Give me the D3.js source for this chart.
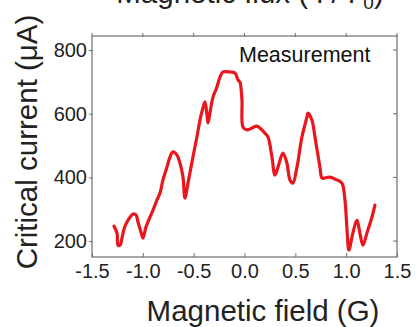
<!DOCTYPE html>
<html>
<head>
<meta charset="utf-8">
<script src="https://cdn.jsdelivr.net/npm/d3@7"></script>
<style>
  html, body { margin: 0; padding: 0; background: #fff; }
  svg { display: block; font-family: "Liberation Sans", Arial, Helvetica, sans-serif; }
</style>
</head>
<body>
<svg id="chart" width="416" height="327"></svg>
<script>
// Measured critical current versus applied magnetic field
const fieldG = [
  -1.284, -1.254, -1.244, -1.225, -1.205, -1.185, -1.156, -1.126, -1.097, -1.067,
  -1.048, -1.018, -0.999, -0.969, -0.930, -0.900, -0.861, -0.831, -0.802, -0.763,
  -0.733, -0.704, -0.664, -0.635, -0.605, -0.586, -0.556, -0.507, -0.468, -0.438,
  -0.409, -0.389, -0.369, -0.359, -0.340, -0.310, -0.271, -0.241, -0.212, -0.143,
  -0.094, -0.064, -0.045, -0.025, -0.015, 0.024, 0.122, 0.172, 0.201, 0.231,
  0.270, 0.299, 0.329, 0.378, 0.417, 0.447, 0.476, 0.516, 0.565, 0.614,
  0.624, 0.663, 0.693, 0.742, 0.762, 0.791, 0.840, 0.909, 0.958, 0.988,
  1.007, 1.027, 1.066, 1.106, 1.135, 1.165, 1.204, 1.253, 1.283
];
const criticalCurrent = [
  247, 225, 187, 187, 209, 238, 260, 275, 285, 282,
  260, 228, 209, 244, 275, 297, 329, 351, 392, 432,
  464, 480, 470, 445, 401, 335, 382, 464, 527, 580,
  618, 637, 596, 571, 602, 652, 684, 715, 731, 731,
  728, 706, 699, 643, 558, 549, 561, 549, 539, 527,
  464, 407, 432, 476, 445, 392, 382, 432, 527, 589,
  602, 580, 527, 432, 398, 398, 401, 392, 382, 329,
  244, 172, 225, 266, 225, 187, 225, 275, 313
];
const xTicks = [-1.5, -1.0, -0.5, 0.0, 0.5, 1.0, 1.5];
const yTicks = [200, 400, 600, 800];

const svg = d3.select("#chart");
const x = d3.scaleLinear().domain([-1.5, 1.5]).range([92, 397]);
const y = d3.scaleLinear().domain([150, 844]).range([257, 36]);

const frame = "#6f6f6f";
const tickLen = 4;
// one decimal, plain hyphen for negatives
const fmtX = d => (d < 0 ? "-" : "") + Math.abs(d).toFixed(1);

// Plot frame
svg.append("rect")
  .attr("x", x(-1.5)).attr("y", y(844))
  .attr("width", x(1.5) - x(-1.5)).attr("height", y(150) - y(844))
  .attr("fill", "none").attr("stroke", frame).attr("stroke-width", 1.2);

// Bottom axis (ticks point inward)
const xAxis = d3.axisBottom(x).tickValues(xTicks).tickSizeInner(-tickLen).tickSizeOuter(0)
  .tickPadding(10).tickFormat(fmtX);
const gx = svg.append("g").attr("transform", `translate(0,${y(150)})`).call(xAxis);
gx.select(".domain").remove();
gx.selectAll(".tick line").attr("stroke", frame);
gx.selectAll(".tick text").attr("fill", "#222").attr("font-size", 20)
  .attr("font-family", "Liberation Sans, Arial, sans-serif")
  .attr("y", 21).attr("dy", 0);

// Top mirror ticks
svg.append("g").selectAll("line").data(xTicks).join("line")
  .attr("x1", d => x(d)).attr("x2", d => x(d))
  .attr("y1", y(844) - 3).attr("y2", y(844) + 1)
  .attr("stroke", frame);

// Left axis
const yAxis = d3.axisLeft(y).tickValues(yTicks).tickSizeInner(3).tickSizeOuter(0).tickPadding(3);
const gy = svg.append("g").attr("transform", `translate(${x(-1.5)},0)`).call(yAxis);
gy.select(".domain").remove();
gy.selectAll(".tick line").attr("stroke", frame).attr("x2", -3).attr("x1", 1);
gy.selectAll(".tick text").attr("fill", "#222").attr("font-size", 20)
  .attr("font-family", "Liberation Sans, Arial, sans-serif").attr("x", -5);

// Right mirror ticks
svg.append("g").selectAll("line").data(yTicks).join("line")
  .attr("x1", x(1.5) - tickLen).attr("x2", x(1.5))
  .attr("y1", d => y(d)).attr("y2", d => y(d))
  .attr("stroke", frame);

// Measurement trace
const pts = fieldG.map((f, i) => [f, criticalCurrent[i]]);
const line = d3.line().x(d => x(d[0])).y(d => y(d[1])).curve(d3.curveCatmullRom.alpha(0.5));
svg.append("path").datum(pts)
  .attr("d", line)
  .attr("fill", "none")
  .attr("stroke", "#e8161d")
  .attr("stroke-width", 3.2)
  .attr("stroke-linejoin", "round")
  .attr("stroke-linecap", "round");

// In-plot label
svg.append("text").attr("x", 239).attr("y", 62)
  .attr("font-size", 21.5).attr("fill", "#111").text("Measurement");

// Axis titles
svg.append("text").attr("x", 263).attr("y", 321).attr("text-anchor", "middle")
  .attr("font-size", 29.5).attr("fill", "#222").text("Magnetic field (G)");

svg.append("text").attr("transform", "translate(37,142) rotate(-90)")
  .attr("text-anchor", "middle").attr("font-size", 29.5).attr("fill", "#222")
  .text("Critical current (\u03bcA)");

// Top axis title (flux in units of the flux quantum)
const fluxTitle = svg.append("text").attr("x", 250).attr("y", 3).attr("text-anchor", "middle")
  .attr("font-size", 29.5).attr("fill", "#222");
fluxTitle.append("tspan").text("Magnetic flux (\u03a6/\u03a6");
fluxTitle.append("tspan").attr("font-size", 19).attr("dy", 6).text("0");
fluxTitle.append("tspan").attr("dy", -6).text(")");
</script>
</body>
</html>
